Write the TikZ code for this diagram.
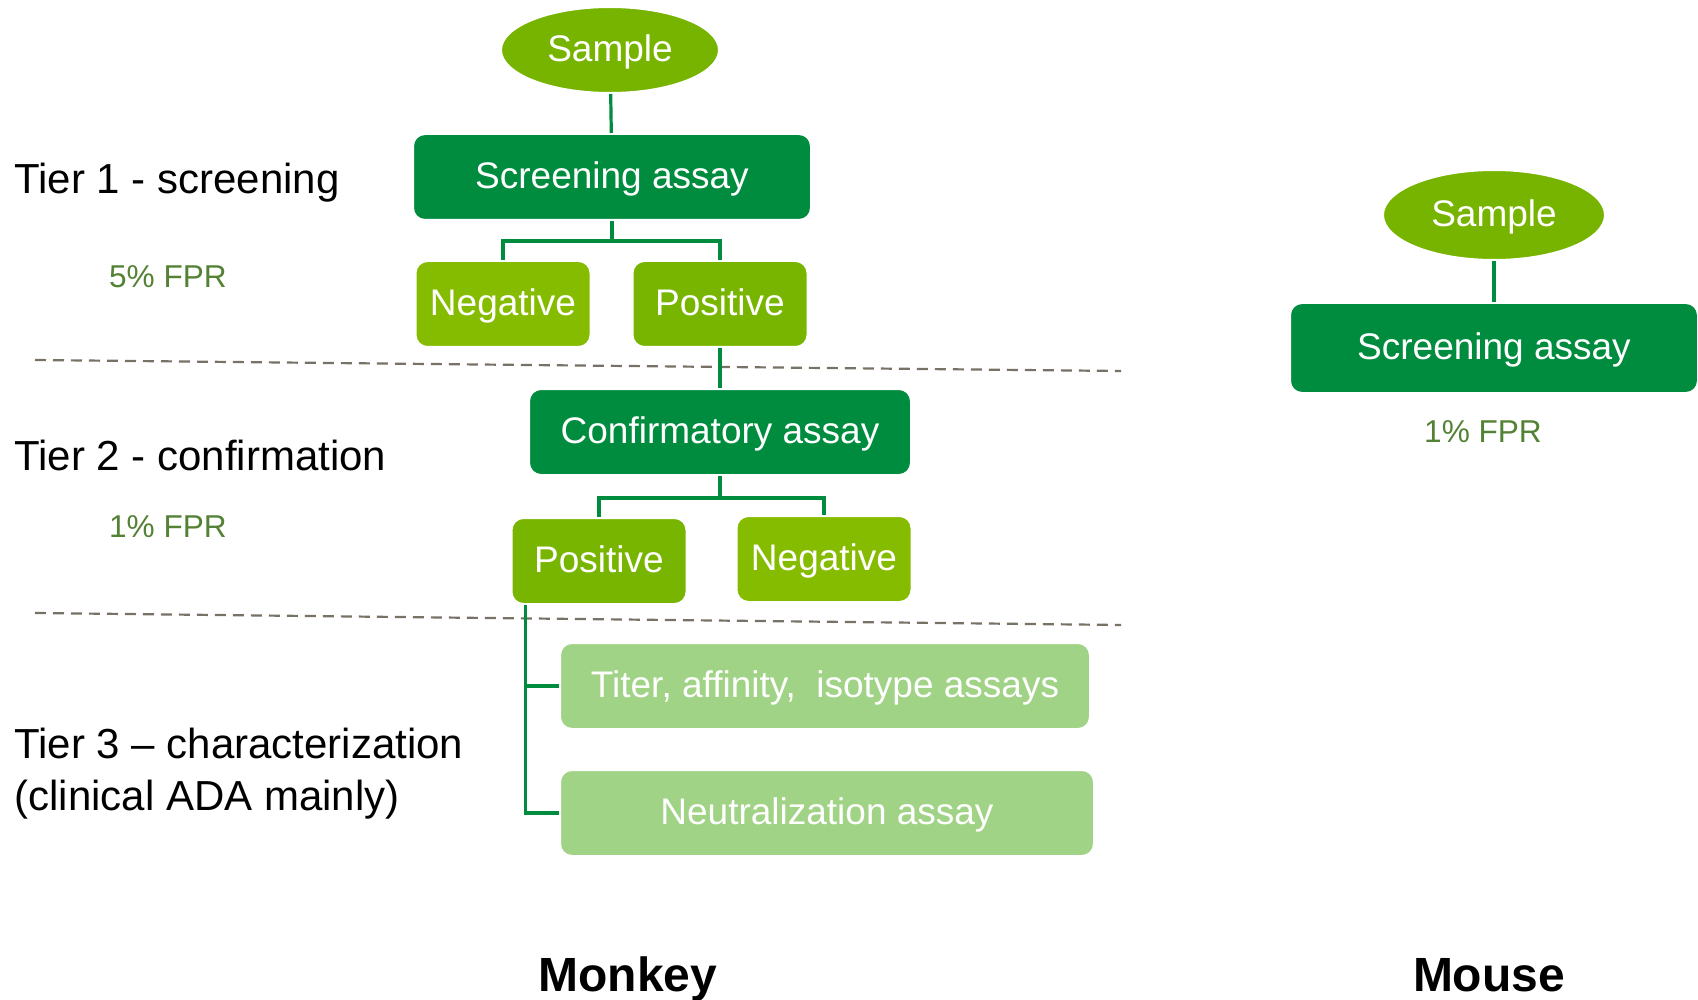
\documentclass[tikz,border=0pt]{standalone}
\usepackage{fontspec}
\setmainfont{Liberation Sans}
\usetikzlibrary{positioning,shapes.geometric,calc}
\definecolor{dkgreen}{RGB}{0,140,62}
\definecolor{ovalgreen}{RGB}{119,180,0}
\definecolor{neggreen}{RGB}{134,188,0}
\definecolor{posgreen}{RGB}{120,181,0}
\definecolor{ltgreen}{RGB}{161,211,134}
\definecolor{fprgreen}{RGB}{84,130,53}
\definecolor{sepgray}{RGB}{120,114,102}
\tikzset{
  boxtext/.style={text=white,font=\fontsize{18.5}{22}\selectfont,
    text height=13.5pt,text depth=1.7pt},
  assay/.style={boxtext,rectangle,rounded corners=6pt,fill=dkgreen,draw=white,line width=1pt,
    minimum height=43pt,inner sep=0pt},
  result/.style={boxtext,rectangle,rounded corners=6pt,draw=white,line width=1pt,
    minimum width=87.5pt,minimum height=43pt,inner sep=0pt},
  charbox/.style={assay,fill=ltgreen,minimum width=265pt},
  sample/.style={boxtext,ellipse,fill=ovalgreen,draw=white,line width=1pt,inner sep=0pt,
    minimum width=109pt,minimum height=43pt},
  link/.style={draw=dkgreen,line width=1.6pt},
  sep/.style={draw=sepgray,line width=1.1pt,dash pattern=on 5.5pt off 3.5pt},
  tier/.style={anchor=base west,inner sep=0pt,font=\fontsize{21}{24}\selectfont},
  fpr/.style={text=fprgreen,inner sep=0pt,font=\fontsize{15.8}{18}\selectfont},
  animal/.style={anchor=base,inner sep=0pt,font=\bfseries\fontsize{24}{28}\selectfont}
}
\begin{document}
\begin{tikzpicture}[x=0.5pt,y=-0.5pt]
  \useasboundingbox (0,0) rectangle (1698,1000);
  \draw[sep] (35,360) -- (1121,371);
  \draw[sep] (35,613) -- (1121,625);

  \node[sample] (samp) at (610,50) {Sample};
  \node[assay,minimum width=199pt] (scr) at (612,177) {Screening assay};
  \node[result,fill=neggreen] (neg1) at (503,304) {Negative};
  \node[result,fill=posgreen] (pos1) at (720,304) {Positive};
  \node[assay,minimum width=191pt] (conf) at (720,432) {Confirmatory assay};
  \node[result,fill=posgreen] (pos2) at (599,561) {Positive};
  \node[result,fill=neggreen] (neg2) at (824,559) {Negative};
  \node[charbox] (titer) at (825,686) {Titer, affinity, \ isotype assays};
  \node[charbox,minimum width=267pt] (neut) at (827,813) {Neutralization assay};

  \node[sample,minimum width=111pt,minimum height=45pt] (msamp) at (1494,215) {Sample};
  \node[assay,minimum width=204pt,minimum height=45pt] (mscr) at (1494,348) {Screening assay};
  \node[fpr] (mfpr) at (1483,432) {1\% FPR};

  \draw[link] (samp) -- (scr);
  \draw[link] (scr.south) -- ++(0,20) -| (neg1.north);
  \draw[link] (scr.south) -- ++(0,20) -| (pos1.north);
  \draw[link] (pos1) -- (conf);
  \draw[link] (conf.south) -- ++(0,22) -| (pos2.north);
  \draw[link] (conf.south) -- ++(0,22) -| (neg2.north);
  \draw[link] ([xshift=7.5pt]pos2.south west) |- (titer.west);
  \draw[link] ([xshift=7.5pt]pos2.south west) |- (neut.west);
  \draw[link] (msamp) -- (mscr);

  \node[tier] (tier1) at (14,194) {Tier 1 - screening};
  \node[fpr] (fpr1) at (168,277) {5\% FPR};
  \node[tier] (tier2) at (14,470) {Tier 2 - confirmation};
  \node[fpr] (fpr2) at (168,527) {1\% FPR};
  \node[tier] (tier3) at (14,758) {Tier 3 -- characterization};
  \node[tier] (tier3b) at (14,810) {(clinical ADA mainly)};

  \node[animal] (monkey) at (628,991) {Monkey};
  \node[animal] (mouse) at (1489,991) {Mouse};
\end{tikzpicture}
\end{document}
